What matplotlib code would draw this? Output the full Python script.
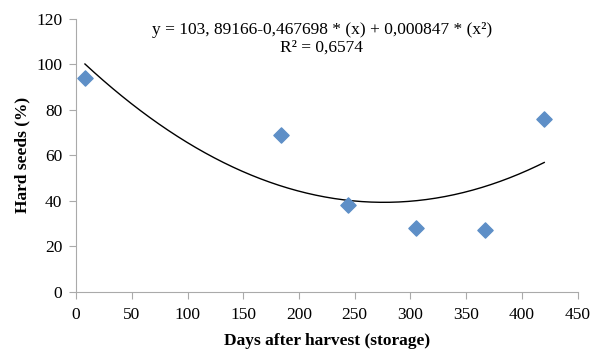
import numpy as np
import matplotlib
matplotlib.use("Agg")
import matplotlib.pyplot as plt

plt.rcParams["font.family"] = ["Liberation Serif", "DejaVu Serif"]

########## DATA ##########
days = [8, 184, 244, 305, 367, 420]
hard_seeds = [94, 69, 38, 28, 27, 76]
# quadratic fit reported on the chart
coef = [103.89166, -0.467698, 0.000847]
eq_text = "y = 103, 89166-0,467698 * (x) + 0,000847 * (x²)\nR² = 0,6574"
##########################

fig = plt.figure(figsize=(6.01, 3.52), dpi=100)
ax = fig.add_axes([0.1265, 0.1713, 0.8347, 0.7747])

xf = np.linspace(min(days), max(days), 200)
yf = coef[0] + coef[1] * xf + coef[2] * xf**2
ax.plot(xf, yf, color="black", lw=1.0)
ax.scatter(days, hard_seeds, marker="D", s=60, color="#5E8FC7", zorder=3)

ax.set_xlim(0, 450)
ax.set_ylim(0, 120)
ax.set_xticks(np.arange(0, 451, 50))
ax.set_yticks(np.arange(0, 121, 20))

for s in ["top", "right"]:
    ax.spines[s].set_visible(False)
for s in ["left", "bottom"]:
    ax.spines[s].set_color("#AAAAAA")
ax.tick_params(colors="#AAAAAA", labelcolor="black", labelsize=12.5, length=5)
ax.tick_params(axis="x", pad=6)
ax.tick_params(axis="y", pad=5)

ax.set_xlabel("Days after harvest (storage)", fontsize=12.5, fontweight="bold",
              labelpad=7)
ax.set_ylabel("Hard seeds (%)", fontsize=12.5, fontweight="bold", labelpad=4)

ax.text(0.49, 0.99, eq_text, transform=ax.transAxes, ha="center", va="top",
        fontsize=12.5, linespacing=1.15)

plt.savefig("out.png", dpi=100)
